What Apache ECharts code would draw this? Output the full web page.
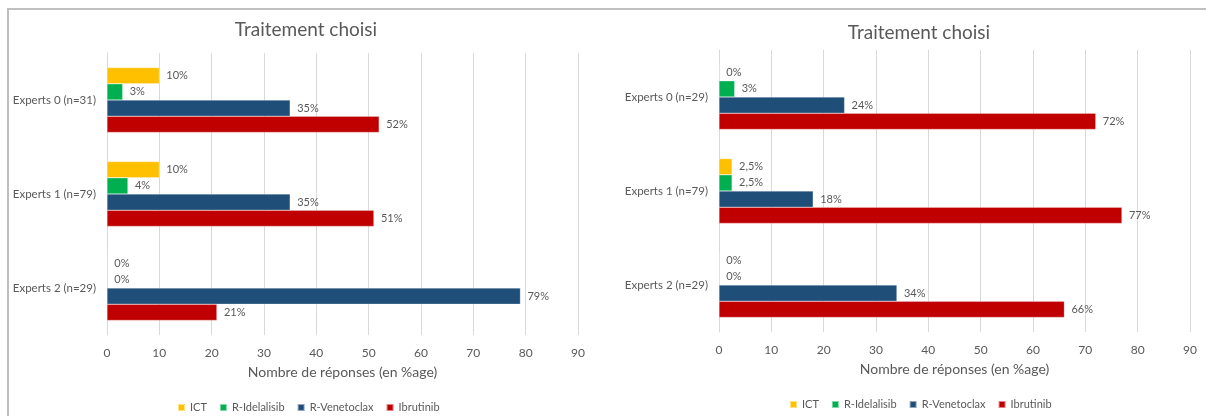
<!DOCTYPE html>
<html>
<head>
<meta charset="utf-8">
<script src="https://cdn.jsdelivr.net/npm/echarts@6/dist/echarts.min.js"></script>
<style>
  html, body { margin: 0; padding: 0; background: #fff; }
  #chart { width: 1206px; height: 416px; }
</style>
</head>
<body>
<div id="chart"></div>
<script>
// data
const seriesNames = ['ICT', 'R-Idelalisib', 'R-Venetoclax', 'Ibrutinib'];
const seriesColors = ['#FFC000', '#00B050', '#1F4E79', '#C00000'];

const leftCategories = ['Experts 0 (n=31)', 'Experts 1 (n=79)', 'Experts 2 (n=29)'];
const leftICT = [10, 10, 0];
const leftIdelalisib = [3, 4, 0];
const leftVenetoclax = [35, 35, 79];
const leftIbrutinib = [52, 51, 21];

const rightCategories = ['Experts 0 (n=29)', 'Experts 1 (n=79)', 'Experts 2 (n=29)'];
const rightICT = [0, 2.5, 0];
const rightIdelalisib = [3, 2.5, 0];
const rightVenetoclax = [24, 18, 34];
const rightIbrutinib = [72, 77, 66];

const xTicks = [0, 10, 20, 30, 40, 50, 60, 70, 80, 90];

const fontFam = 'Lato, "Open Sans", sans-serif';
const grayText = '#595959';

const leftData = [leftICT, leftIdelalisib, leftVenetoclax, leftIbrutinib];
const rightData = [rightICT, rightIdelalisib, rightVenetoclax, rightIbrutinib];

function pctLabel(p) {
    return String(p.value).replace('.', ',') + '%';
}

function makeSeries(dataList, idx) {
    return dataList.map((vals, i) => ({
        name: seriesNames[i],
        type: 'bar',
        xAxisIndex: idx,
        yAxisIndex: idx,
        data: vals,
        barGap: '0%',
        barCategoryGap: '31%',
        itemStyle: {
            color: seriesColors[i],
            borderColor: 'rgba(255,255,255,0.5)',
            borderWidth: 0.5
        },
        label: {
            show: true,
            position: 'right',
            distance: 7,
            color: grayText,
            fontSize: 11,
            fontFamily: fontFam,
            formatter: pctLabel
        },
        emphasis: { disabled: true }
    }));
}

function xAxisFor(gridIndex) {
    return {
        type: 'value',
        gridIndex: gridIndex,
        min: xTicks[0],
        max: xTicks[xTicks.length - 1],
        interval: 10,
        axisLine: { show: false },
        axisTick: { show: false },
        splitLine: { show: true, lineStyle: { color: '#d9d9d9', width: 1 } },
        axisLabel: { color: grayText, fontSize: 12, fontFamily: fontFam, margin: 12 },
        name: 'Nombre de réponses (en %age)',
        nameLocation: 'middle',
        nameGap: 30,
        nameTextStyle: { color: grayText, fontSize: 14, fontFamily: fontFam }
    };
}

function yAxisFor(gridIndex, cats) {
    return {
        type: 'category',
        gridIndex: gridIndex,
        data: cats,
        inverse: true,
        axisLine: { show: true, lineStyle: { color: '#d9d9d9' } },
        axisTick: { show: false },
        axisLabel: { color: grayText, fontSize: 11.5, fontFamily: fontFam, margin: 11 }
    };
}

function legendFor(leftX, top) {
    return {
        data: seriesNames,
        left: leftX,
        top: top,
        itemWidth: 7,
        itemHeight: 7,
        itemGap: 12,
        icon: 'rect',
        textStyle: { color: grayText, fontSize: 11, fontFamily: fontFam },
        selectedMode: false
    };
}

let chart = echarts.init(document.getElementById('chart'), null, { renderer: 'canvas' });

let option = {
    backgroundColor: '#ffffff',
    animation: false,
    title: [
        {
            text: 'Traitement choisi',
            left: 301, top: 15, textAlign: 'center',
            textStyle: { color: grayText, fontSize: 19, fontWeight: 'normal', fontFamily: fontFam }
        },
        {
            text: 'Traitement choisi',
            left: 914, top: 18, textAlign: 'center',
            textStyle: { color: grayText, fontSize: 19, fontWeight: 'normal', fontFamily: fontFam }
        }
    ],
    legend: [legendFor(172, 397), legendFor(784, 394)],
    grid: [
        { left: 107, top: 53, width: 471, height: 282 },
        { left: 719, top: 50, width: 471, height: 282 }
    ],
    xAxis: [xAxisFor(0), xAxisFor(1)],
    yAxis: [yAxisFor(0, leftCategories), yAxisFor(1, rightCategories)],
    series: makeSeries(leftData, 0).concat(makeSeries(rightData, 1)),
    graphic: [
        {
            type: 'line', silent: true,
            shape: { x1: 7, y1: 9, x2: 1206, y2: 9 },
            style: { stroke: '#bfbfbf', lineWidth: 2 }
        },
        {
            type: 'line', silent: true,
            shape: { x1: 8, y1: 9, x2: 8, y2: 416 },
            style: { stroke: '#bfbfbf', lineWidth: 2 }
        }
    ]
};

chart.setOption(option);
</script>
</body>
</html>
